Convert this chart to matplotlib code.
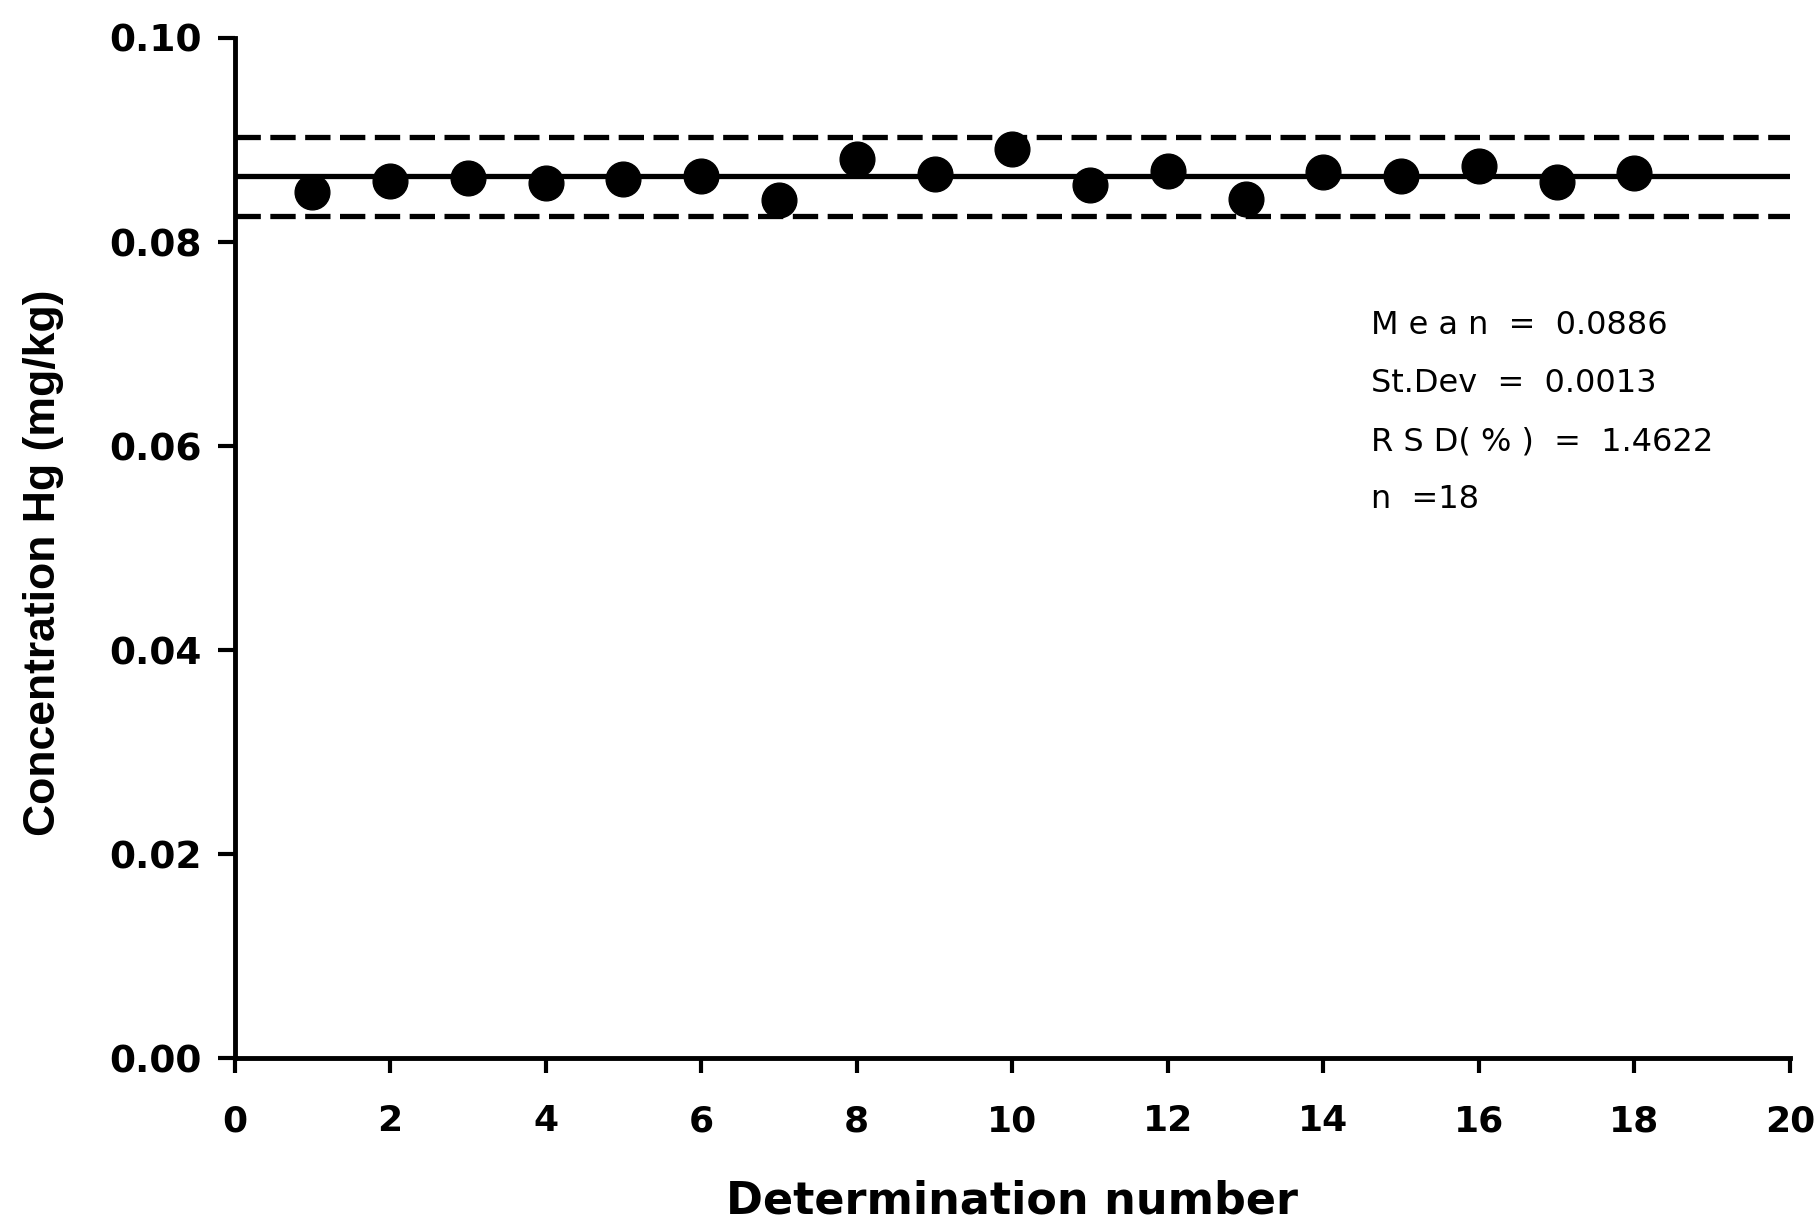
import numpy as np
import matplotlib
matplotlib.use("Agg")
import matplotlib.pyplot as plt

# Hg determinations (mg/kg)
determination = [1, 2, 3, 4, 5, 6, 7, 8, 9, 10, 11, 12, 13, 14, 15, 16, 17, 18]
conc_hg = [0.0849, 0.0860, 0.0863, 0.0858, 0.0862, 0.0865, 0.0841, 0.0881, 0.0867,
           0.0891, 0.0856, 0.0870, 0.0842, 0.0869, 0.0865, 0.0875, 0.0859, 0.0868]
mean_line = 0.0865
upper_limit = 0.0903
lower_limit = 0.0826
line_x = [0, 20]

stats_text = ["M e a n  =  0.0886", "St.Dev  =  0.0013", "R S D( % )  =  1.4622", "n  =18"]

x_ticks = [0, 2, 4, 6, 8, 10, 12, 14, 16, 18, 20]
y_ticks = [0.00, 0.02, 0.04, 0.06, 0.08, 0.10]

plt.rcParams['font.family'] = ['DejaVu Sans']

fig = plt.figure(figsize=(18.19, 12.25), dpi=100)
ax = fig.add_axes([0.129, 0.136, 0.855, 0.833])

ax.plot(line_x, [mean_line, mean_line], color='black', lw=3.8)
ax.plot(line_x, [upper_limit, upper_limit], color='black', lw=3.8, ls=(0, (4.8, 1.8)))
ax.plot(line_x, [lower_limit, lower_limit], color='black', lw=3.8, ls=(0, (4.8, 1.8)))
ax.plot(determination, conc_hg, 'o', color='black', markersize=25, zorder=3)

ax.set_xlim(0, 20)
ax.set_ylim(0, 0.10)
ax.set_xticks(x_ticks)
ax.set_yticks(y_ticks)
ax.set_xticklabels([str(t) for t in x_ticks], fontsize=26, fontweight='bold')
ax.set_yticklabels([f"{t:.2f}" for t in y_ticks], fontsize=27, fontweight='bold')
ax.tick_params(axis='x', direction='out', length=11, width=3, pad=22)
ax.tick_params(axis='y', direction='out', length=12, width=3, pad=12)

for side in ['top', 'right']:
    ax.spines[side].set_visible(False)
for side in ['left', 'bottom']:
    ax.spines[side].set_linewidth(3.5)

ax.set_xlabel('Determination number', fontsize=32, fontweight='bold', va='center')
ax.set_ylabel('Concentration Hg (mg/kg)', fontsize=32, fontweight='bold',
              family='Liberation Sans', va='center')
ax.xaxis.set_label_coords(0.5, -0.14)
ax.yaxis.set_label_coords(-0.123, 0.486)

for i, line in enumerate(stats_text):
    ax.text(0.7306, 0.718 - i * 0.0569, line, transform=ax.transAxes,
            fontsize=23, va='center', ha='left')

fig.savefig('out.png', dpi=100)
